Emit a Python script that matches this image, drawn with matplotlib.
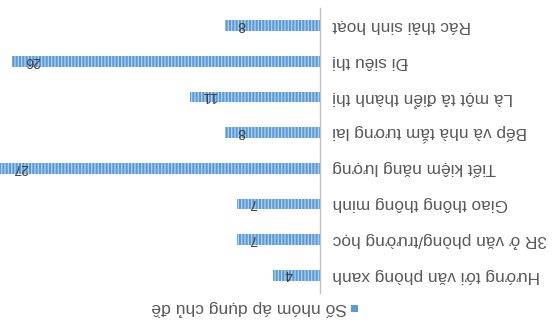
import matplotlib
matplotlib.use('Agg')
import matplotlib.pyplot as plt
import matplotlib.patches as mpatches

plt.rcParams['font.family'] = ['Liberation Sans', 'DejaVu Sans']
plt.rcParams['hatch.linewidth'] = 0.9

# categories listed bottom-to-top as they sit on the (upside-down) chart
TOPICS = [
    'Hướng tới văn phòng xanh',
    '3R ở văn phòng/trường học',
    'Giao thông thông minh',
    'Tiết kiệm năng lượng',
    'Bếp và nhà tắm tương lai',
    'Là một tả điển thành thị',
    'Đi siêu thị',
    'Rác thải sinh hoạt',
]
GROUPS = [4, 7, 7, 27, 8, 11, 26, 8]
SERIES_NAME = 'Số nhóm áp dụng chủ đề'

BAR_COLOR = '#5B9BD5'
STRIPE_COLOR = '#B4D3F0'
TEXT_COLOR = '#595959'

W, H = 555, 336
fig = plt.figure(figsize=(W / 100, H / 100), dpi=100)

# whole chart is drawn rotated by 180 degrees: bars grow to the left,
# labels sit on the right of the axis, all text upside down
ax_right = 320 / W
ax = fig.add_axes([0.0, 1 - 293 / H, ax_right, (293 - 8) / H])

ypos = list(range(len(TOPICS)))
ax.barh(ypos, GROUPS, height=0.30, color=BAR_COLOR, edgecolor=STRIPE_COLOR,
        hatch='|||||', linewidth=0)

ax.set_xlim(27, 0)
ax.set_ylim(-0.5, len(TOPICS) - 0.5)

for y, v in zip(ypos, GROUPS):
    ax.annotate(str(v), xy=(v, y), xytext=(9, 0.5), textcoords='offset points',
                rotation=180, ha='left', va='center', fontsize=10,
                color='#404040')

ax.yaxis.tick_right()
ax.set_yticks(ypos)
ax.set_yticklabels(TOPICS, rotation=180, ha='left', va='center',
                   fontsize=12.4, color=TEXT_COLOR)
ax.tick_params(axis='y', length=0, pad=9)
ax.set_xticks([])
for side in ('left', 'top', 'bottom'):
    ax.spines[side].set_visible(False)
ax.spines['right'].set_color('#BFBFBF')
ax.spines['right'].set_linewidth(1.0)
ax.patch.set_alpha(0)

# legend, drawn by hand so the marker ends up on the right of the text
fig.text(347 / W, 1 - 308 / H, SERIES_NAME, rotation=180, ha='right',
         va='center', fontsize=12.6, color=TEXT_COLOR)
fig.patches.append(mpatches.Rectangle((351 / W, 1 - 312 / H), 7 / W, 7 / H,
                                      transform=fig.transFigure,
                                      facecolor=BAR_COLOR, edgecolor='none'))

fig.savefig('out.png', dpi=100)
